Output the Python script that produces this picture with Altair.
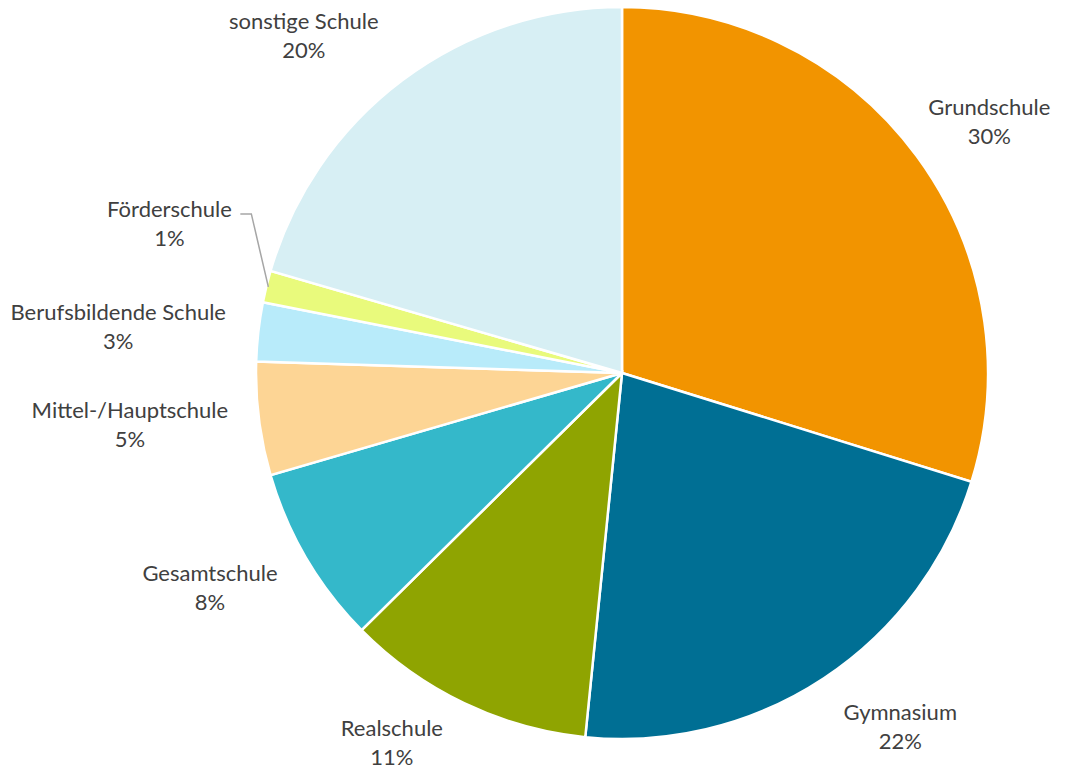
import altair as alt
import pandas as pd
import math

categories = ["Grundschule", "Gymnasium", "Realschule", "Gesamtschule",
              "Mittel-/Hauptschule", "Berufsbildende Schule", "Förderschule",
              "sonstige Schule"]
values = [29.8, 21.8, 11.0, 7.9, 5.0, 2.6, 1.4, 20.5]
pct_labels = ["30%", "22%", "11%", "8%", "5%", "3%", "1%", "20%"]
colors = ["#F29400", "#006F94", "#8FA401", "#34B8CA",
          "#FDD595", "#B8EBFA", "#E9FA7C", "#D7EFF4"]

# layout (style) settings
CX, CY = 614, 365          # pie centre inside the plot area
R = 366                    # pie radius
FONT = "Lato"
FS = 22
TXT = "#404040"
LH = 29
SHIFT = -14                # multi-line block centring correction
# per-label placement: (radius, dx, dy)
label_place = {
    "Grundschule": (445, 9, 13),
    "Gymnasium": (450, 30, -21),
    "Realschule": (443, -39, -30),
    "Gesamtschule": (465, -11, -20),
    "Mittel-/Hauptschule": (495, -1, -10),
    "Berufsbildende Schule": (506, -1, 11),
    "Förderschule": (476, 10, -36),
    "sonstige Schule": (465, -39, 35),
}

total = sum(values)
cum = 0.0
mids = []
for v in values:
    mids.append(cum + v / 2)
    cum += v

df = pd.DataFrame({
    "cat": categories,
    "value": values,
    "idx": list(range(len(categories))),
    "mid": mids,
    "label": [f"{c}\n{p}" for c, p in zip(categories, pct_labels)],
})

color_scale = alt.Scale(domain=categories, range=colors)

arcs = alt.Chart(df).mark_arc(
    x=CX, y=CY, radius=R, stroke="white", strokeWidth=2.5
).encode(
    theta=alt.Theta("value:Q", stack=True, scale=alt.Scale(domain=[0, total])),
    color=alt.Color("cat:N", scale=color_scale, legend=None, sort=None),
    order=alt.Order("idx:Q"),
)

texts = []
for cat in categories:
    rr, dx, dy = label_place[cat]
    t = alt.Chart(df).transform_filter(
        alt.datum.cat == cat
    ).mark_text(
        x=CX, y=CY, radius=rr, dx=dx, dy=dy + SHIFT, font=FONT, fontSize=FS,
        color=TXT, lineBreak="\n", lineHeight=LH, align="center",
        baseline="middle",
    ).encode(
        theta=alt.Theta("mid:Q", stack=None, scale=alt.Scale(domain=[0, total])),
        text="label:N",
    )
    texts.append(t)

# leader line for Förderschule
fi = categories.index("Förderschule")
a = mids[fi] / total * 2 * math.pi
ex, ey = CX + (R - 2) * math.sin(a), CY - (R - 2) * math.cos(a)
lead = pd.DataFrame({
    "px": [ex - 28, ex - 17, ex],
    "py": [ey - 73, ey - 73, ey],
    "o": [0, 1, 2],
})
leader = alt.Chart(lead).mark_line(color="#A6A6A6", strokeWidth=1.5).encode(
    x=alt.X("px:Q", scale=None),
    y=alt.Y("py:Q", scale=None),
    order="o:Q",
)

chart = alt.layer(arcs, *texts, leader).properties(
    width=1054, height=765, padding=0,
    autosize=alt.AutoSizeParams(type="none"),
).configure_view(strokeWidth=0)

chart.save("out.html", embed_options={"renderer": "svg", "actions": False})
